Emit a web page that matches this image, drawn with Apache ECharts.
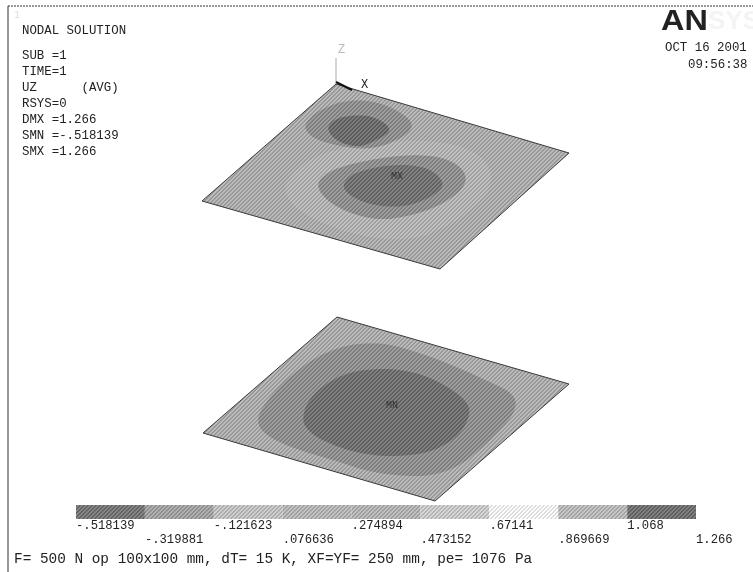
<!DOCTYPE html>
<html><head><meta charset="utf-8">
<style>html,body{margin:0;padding:0;background:#fff}#c{width:753px;height:572px}</style>
<script src="https://cdn.jsdelivr.net/npm/echarts@6/dist/echarts.min.js"></script>
</head><body><div id="c"></div>
<script>
// Contour regions, in plot units
const upperPlate=[[336,84],[569,153],[440,269],[202,201]];
const upperHalo=[[283,185],[300,165],[330,150],[380,142],[430,140],[470,148],[490,165],[492,185],[478,205],[450,225],[420,238],[385,240],[345,232],[310,218],[290,203]];
const upperBlobAOuter=[[304,125],[315,113],[327,107],[340,102],[357,100],[377,102],[397,110],[413,122],[410,132],[397,140],[380,147],[360,149],[340,146],[320,141],[308,134]];
const upperBlobAInner=[[327,127],[335,119],[347,116],[363,115],[377,118],[390,127],[388,134],[373,142],[360,147],[343,144],[331,136]];
const upperBlobBOuter=[[317,182],[330,171],[347,165],[370,160],[395,156],[420,155],[440,157],[457,164],[466,174],[465,186],[452,198],[432,209],[405,217],[380,220],[355,215],[333,205],[320,193]];
const upperBlobBInner=[[342,186],[350,175],[368,169],[390,165],[413,165],[432,170],[444,182],[440,191],[425,200],[407,206],[387,207],[365,203],[349,195]];
const lowerPlate=[[337,317],[569,384],[435,501],[203,433]];
const lowerOuter=[[255,420],[270,396],[291,375],[316,357],[340,347],[363,343],[390,344],[423,354],[457,367],[490,382],[509,391],[517,401],[513,415],[500,430],[480,450],[456,468],[430,476],[403,476],[370,472],[333,460],[295,449],[266,436]];
const lowerInner=[[302,419],[308,400],[325,384],[347,373],[370,369],[397,369],[425,375],[452,389],[468,403],[470,414],[463,430],[449,443],[427,453],[403,456],[377,456],[350,451],[323,441],[307,430]];
const triadZ=[[336,84],[336,58]];
const triadX=[[336,82],[352,90]];
// Colour bar
const levels=[-0.518139,-0.319881,-0.121623,0.076636,0.274894,0.473152,0.67141,0.869669,1.068,1.266];
const levelLabels=['-.518139','-.319881','-.121623','.076636','.274894','.473152','.67141','.869669','1.068','1.266'];
const bandShades=[118,160,190,178,176,198,238,182,112];
// Text
const headerLines=['SUB =1','TIME=1','UZ      (AVG)','RSYS=0','DMX =1.266','SMN =-.518139','SMX =1.266'];
const footerText='F= 500 N op 100x100 mm, dT= 15 K, XF=YF= 250 mm, pe= 1076 Pa';

function dither(v){
  const cv=document.createElement('canvas');cv.width=4;cv.height=4;
  const g=cv.getContext('2d');
  const lo=Math.max(0,v-18),hi=Math.min(255,v+18);
  for(let x=0;x<4;x++)for(let y=0;y<4;y++){
    const c=(x+y)%4<2?lo:hi;
    g.fillStyle='rgb('+c+','+c+','+c+')';g.fillRect(x,y,1,1);
  }
  return {image:cv,repeat:'repeat'};
}
// Corner rounding of an outline in pixel space
function rounded(pts,times){
  let out=pts;
  for(let t=0;t<times;t++){
    const next=[];
    out.forEach((a,i)=>{
      const b=out[(i+1)%out.length];
      next.push([a[0]*0.75+b[0]*0.25,a[1]*0.75+b[1]*0.25],[a[0]*0.25+b[0]*0.75,a[1]*0.25+b[1]*0.75]);
    });
    out=next;
  }
  return out;
}
function region(points,shade,z,times,stroke){
  return {type:'custom',coordinateSystem:'cartesian2d',xAxisIndex:0,yAxisIndex:0,z:z,silent:true,clip:false,
    data:points,
    renderItem:function(p,api){
      if(p.dataIndex!==0)return null;
      return {type:'polygon',shape:{points:rounded(points.map(q=>api.coord(q)),times||0)},
        style:{fill:dither(shade),stroke:stroke||null,lineWidth:stroke?1:0}};
    }};
}
function line(points,color,width,z){
  return {type:'line',xAxisIndex:0,yAxisIndex:0,data:points,symbol:'none',z:z,silent:true,
    lineStyle:{color:color,width:width},clip:false,animation:false};
}
const mono='"Liberation Mono",monospace';
function txt(x,y,s,o,extra){
  o=o||{};
  return Object.assign({type:'text',x:x,y:y,silent:true,z:50,style:Object.assign({text:s,fill:'#222',font:'12.4px '+mono,textVerticalAlign:'middle'},o)},extra||{});
}
const g=[];
g.push({type:'line',silent:true,z:40,shape:{x1:8,y1:6,x2:753,y2:6},style:{stroke:'#333',lineWidth:1,lineDash:[2,1]}});
g.push({type:'line',silent:true,z:40,shape:{x1:8,y1:6,x2:8,y2:572},style:{stroke:'#333',lineWidth:1}});
g.push(txt(14,15,'1',{fill:'#ddd',font:'10px '+mono}));
g.push(txt(22,31,'NODAL SOLUTION'));
headerLines.forEach((s,i)=>g.push(txt(22,56+i*16,s)));
g.push(txt(665,48,'OCT 16 2001'));
g.push(txt(688,65,'09:56:38'));
g.push(txt(661,22,'AN',{font:'bold 30px "Liberation Sans"',fill:'#222'},{scaleX:1.08}));
g.push(txt(708,22,'SYS',{font:'bold 26px "Liberation Sans"',fill:'#f4f4f4'}));
g.push(txt(361,85,'X',{font:'12px '+mono}));
g.push(txt(338,50,'Z',{fill:'#bbb',font:'12px '+mono}));
g.push(txt(391,176,'MX',{font:'10px '+mono,fill:'#333'}));
g.push(txt(386,405,'MN',{font:'10px '+mono,fill:'#333'}));
g.push(txt(14,559,footerText,{font:'14.4px '+mono}));

const barBands={type:'custom',coordinateSystem:'cartesian2d',xAxisIndex:1,yAxisIndex:1,z:5,silent:true,clip:false,
  data:bandShades.map((s,i)=>[levels[i],levels[i+1],s]),
  renderItem:function(p,api){
    const a=api.coord([api.value(0),1]),b=api.coord([api.value(1),0]);
    return {type:'rect',shape:{x:a[0],y:a[1],width:b[0]-a[0],height:b[1]-a[1]},style:{fill:dither(api.value(2))}};
  }};
const barLabels={type:'custom',coordinateSystem:'cartesian2d',xAxisIndex:1,yAxisIndex:1,z:6,silent:true,clip:false,
  data:levels.map(v=>[v,0]),
  renderItem:function(p,api){
    const a=api.coord([api.value(0),0]);
    return {type:'text',x:a[0],y:a[1]+(p.dataIndex%2?21:7),
      style:{text:levelLabels[p.dataIndex],fill:'#222',font:'12.2px '+mono,textVerticalAlign:'middle'}};
  }};

const chart=echarts.init(document.getElementById('c'),null,{renderer:'canvas'});
chart.setOption({
  animation:false,backgroundColor:'#fff',
  grid:[{left:0,top:0,width:753,height:572},{left:76,top:505,width:620,height:14}],
  xAxis:[{type:'value',gridIndex:0,min:0,max:753,show:false},{type:'value',gridIndex:1,min:levels[0],max:levels[9],show:false}],
  yAxis:[{type:'value',gridIndex:0,min:0,max:572,inverse:true,show:false},{type:'value',gridIndex:1,min:0,max:1,show:false}],
  graphic:g,
  series:[
    region(upperPlate,170,2,0,'#3a3a3a'),
    region(upperHalo,177,3,3),
    region(upperBlobAOuter,142,4,3),
    region(upperBlobAInner,108,5,3),
    region(upperBlobBOuter,142,4,3),
    region(upperBlobBInner,114,5,3),
    region(lowerPlate,170,2,0,'#3a3a3a'),
    region(lowerOuter,142,3,3),
    region(lowerInner,112,4,3),
    line(triadZ,'#aaa',1,6),
    line(triadX,'#111',2,6),
    barBands,barLabels
  ]
});
</script></body></html>
